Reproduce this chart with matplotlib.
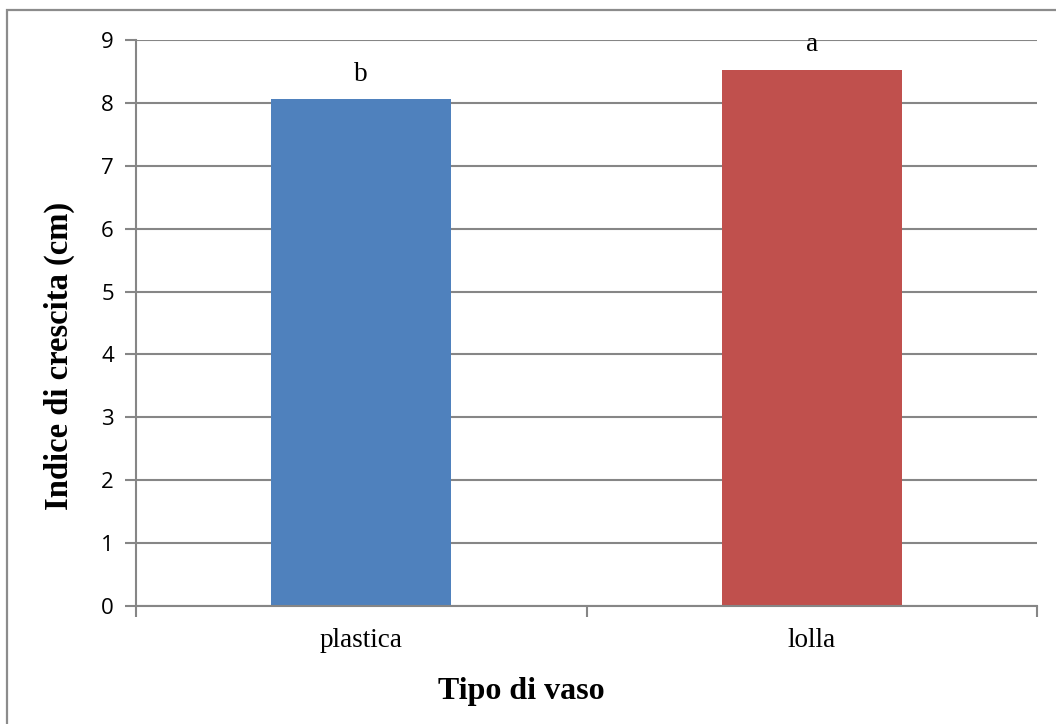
import matplotlib
matplotlib.use("Agg")
import matplotlib.pyplot as plt
from matplotlib.patches import Rectangle
import numpy as np

# dati
tipi_vaso = ["plastica", "lolla"]
indice_crescita = [8.06, 8.53]
lettere = ["b", "a"]
colori = ["#4F81BD", "#C0504D"]
tick_y = [0, 1, 2, 3, 4, 5, 6, 7, 8, 9]

W, H = 1056, 724
fig = plt.figure(figsize=(W / 100, H / 100), dpi=100)
fig.patch.set_facecolor("white")

# cornice del grafico
fig.patches.append(Rectangle((7 / W, -0.1), 1.2, 1 - 10 / H + 0.1,
                             transform=fig.transFigure, fill=False,
                             edgecolor="#8c8c8c", linewidth=1.6))

grigio = "#868686"
ax = fig.add_axes([136 / W, 1 - 606 / H, (1037 - 136) / W, (606 - 40) / H])

x = np.arange(len(tipi_vaso))
ax.bar(x, indice_crescita, width=0.4, color=colori, zorder=3)

for xi, v, l in zip(x, indice_crescita, lettere):
    ax.annotate(l, (xi, v), xytext=(0, 9), textcoords="offset points",
                ha="center", va="bottom", fontsize=19.5, family="Liberation Serif")

ax.set_xlim(-0.5, len(tipi_vaso) - 0.5)
ax.set_ylim(0, 9)
ax.set_yticks(tick_y)
ax.set_yticklabels([str(t) for t in tick_y], fontsize=16, family="Open Sans")
ax.yaxis.grid(True, color=grigio, linewidth=1.5, zorder=0)

# tacche fra le categorie, etichette al centro
ax.set_xticks([-0.5, 0.5, 1.5])
ax.set_xticklabels([])
ax.set_xticks(x, minor=True)
ax.set_xticklabels(tipi_vaso, minor=True, fontsize=19.5, family="Liberation Serif")
ax.tick_params(axis="x", which="major", length=8, width=1.5, color=grigio, direction="out")
ax.tick_params(axis="x", which="minor", length=0, pad=16)
ax.tick_params(axis="y", length=8, width=1.5, color=grigio, direction="out", pad=8)

for s in ["top", "right"]:
    ax.spines[s].set_visible(False)
for s in ["left", "bottom"]:
    ax.spines[s].set_color(grigio)
    ax.spines[s].set_linewidth(1.5)
    ax.spines[s].set_zorder(4)

fig.text(59 / W, 1 - 356 / H, "Indice di crescita (cm)", rotation=90,
         ha="center", va="center", fontsize=23.5, fontweight="bold",
         family="Liberation Serif")
fig.text(521 / W, 1 - 691 / H, "Tipo di vaso", ha="center", va="center",
         fontsize=23, fontweight="bold", family="Liberation Serif")

fig.savefig("out.png", dpi=100)
